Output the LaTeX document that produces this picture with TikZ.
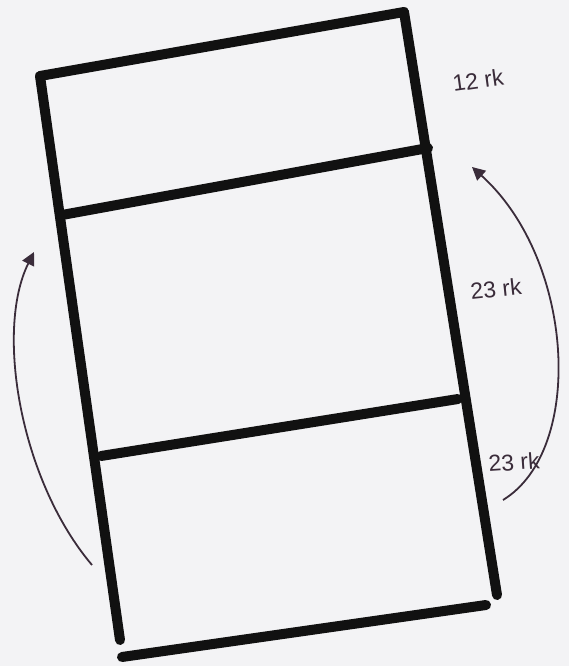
\documentclass[tikz,border=0pt]{standalone}
\usepackage{fontspec}
\setmainfont{Liberation Sans}
\usetikzlibrary{arrows.meta}
\definecolor{paper}{HTML}{F3F3F5}
\definecolor{ink}{HTML}{111111}
\definecolor{pen}{HTML}{3A2C3A}
\tikzset{
  wall/.style={line width=10pt, ink, line cap=round},
  mover/.style={line width=1.8pt, pen, -{Triangle[length=13pt,width=13pt]}},
  lbl/.style={pen, font=\fontsize{23}{23}\selectfont, inner sep=0pt}
}
\begin{document}
\begin{tikzpicture}[x=1pt,y=-1pt]
\fill[paper] (0,0) rectangle (569,666);
\useasboundingbox (0,0) rectangle (569,666);
% corners
\coordinate (tl) at (40,76);
\coordinate (tr) at (404,12);
\coordinate (bl) at (120,640);
\coordinate (br) at (497,595);
\coordinate (m1l) at (62,215);
\coordinate (m1r) at (428,148);
\coordinate (m2l) at (101,456);
\coordinate (m2r) at (458,399);
\coordinate (b1) at (122,657);
\coordinate (b2) at (486,605);
% frame
\draw[wall] (tl) -- (tr);
\draw[wall] (tl) -- (bl);
\draw[wall] (tr) -- (br);
\draw[wall] (m1l) -- (m1r);
\draw[wall] (m2l) -- (m2r);
\draw[wall] (b1) -- (b2);
% labels
\node[lbl, rotate=8] (l1) at (478,80) {12 rk};
\node[lbl, rotate=6] (l2) at (496,289) {23 rk};
\node[lbl, rotate=4] (l3) at (514,462) {23 rk};
% arrows
\coordinate (a1s) at (92,565);
\coordinate (a1e) at (34,252);
\draw[mover] (a1s) .. controls (20,480) and (-5,330) .. (a1e);
\coordinate (a2s) at (503,500);
\coordinate (a2e) at (472,167);
\draw[mover] (a2s) .. controls (585,450) and (575,260) .. (a2e);
\end{tikzpicture}
\end{document}
